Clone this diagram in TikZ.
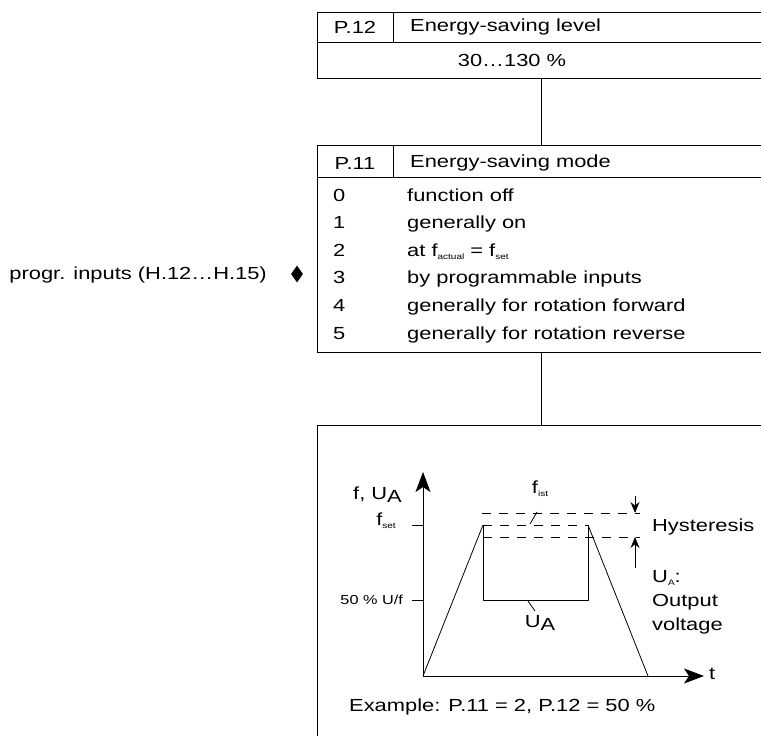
\documentclass[tikz,border=0pt]{standalone}
\usepackage{fontspec}
\setmainfont{Liberation Sans}[FakeStretch=1.25]
\usetikzlibrary{arrows.meta,shapes.geometric}
% tiny lowered index, and index at full size
\newcommand{\lowsub}[1]{\raisebox{-3pt}{\fontsize{8}{8}\selectfont #1}}
\newcommand{\bigsub}[1]{\raisebox{-3pt}{#1}}

\begin{document}
\begin{tikzpicture}[x=1pt, y=-1pt,
  every node/.style={font=\fontsize{17.5}{24}\selectfont, inner sep=0pt},
  pbox/.style={draw, line width=1pt, anchor=north west, minimum width=460pt},
  divider/.style={line width=1pt},
  curve/.style={line width=0.8pt},
  guide/.style={curve, dash pattern=on 9pt off 8pt},
  axis/.style={curve, -{Stealth[length=20pt, width=15pt, inset=5pt]}},
  hyst/.style={curve, -{Stealth[length=11pt, width=9pt]}},
  small/.style={font=\fontsize{13}{15}\selectfont}]
  \useasboundingbox (0,0) rectangle (761,736);
  \clip (0,0) rectangle (761,736);

  % P.12 parameter box
  \node[pbox, minimum height=66pt] (p12) at (317,12) {};
  \draw[divider] (317,42) -- (780,42);
  \draw[divider] (393,12) -- (393,42);
  \node (p12id) at (355,27) {P.12};
  \node[anchor=west] (p12name) at (410,27) {Energy-saving level};
  \node (p12range) at (512,60) {30…130 \%};

  % P.11 parameter box
  \node[pbox, minimum height=207pt] (p11) at (317,145) {};
  \draw[divider] (317,177) -- (780,177);
  \draw[divider] (393,145) -- (393,177);
  \node (p11id) at (355,163) {P.11};
  \node[anchor=west] (p11name) at (410,163) {Energy-saving mode};
  \foreach \val/\txt [count=\i from 0] in {0/function off, 1/generally on,
      2/{at f\lowsub{actual} = f\lowsub{set}}, 3/by programmable inputs,
      4/generally for rotation forward, 5/generally for rotation reverse} {
    \node[anchor=base west] (num\val) at (333,{201+27.6*\i}) {\val};
    \node[anchor=base west] (opt\val) at (407,{201+27.6*\i}) {\txt};
  }
  \node[anchor=east] (progin) at (267,275) {progr. inputs (H.12…H.15)};
  \node[diamond, fill, minimum width=12pt, minimum height=17pt] (trig) at (297,274) {};

  % example chart box
  \node[pbox, minimum height=340pt] (chart) at (317,425) {};

  % links between the boxes
  \coordinate (hub) at (541,0);
  \draw[divider] (p12.south -| hub) -- (p11.north -| hub);
  \draw[divider] (p11.south -| hub) -- (chart.north -| hub);

  % axes
  \coordinate (O) at (423,676);
  \coordinate (ytop) at (423,472);
  \coordinate (xend) at (704,676);
  \draw[axis] (O) -- (ytop);
  \draw[axis] (O) -- (xend);
  \draw[curve] (412,525) -- (423,525);
  \draw[curve] (412,600) -- (423,600);
  \node[anchor=east] (fua) at (402,495) {f, U\bigsub{A}};
  \node (fset) at (386,521) {f\lowsub{set}};
  \node[small, anchor=east] (halfuf) at (403,600) {50 \% U/f};
  \node[anchor=west] (tlab) at (709,674) {t};

  % frequency ramp and output voltage
  \coordinate (rampup) at (483,525);
  \coordinate (rampdn) at (588,525);
  \draw[curve] (O) -- (rampup);
  \draw[guide] (rampup) -- (rampdn);
  \draw[curve] (rampdn) -- (648,676);
  \draw[curve] (rampup) -- (483,600) -- (588,600) -- (rampdn);
  \draw[guide] (482,513) -- (640,513);
  \draw[guide] (483,537) -- (640,537);

  % labels inside the chart
  \node (fist) at (540,489) {f\lowsub{ist}};
  \draw[curve] (530,524) -- (537,512);
  \node (ualab) at (540,623) {U\bigsub{A}};
  \draw[curve] (528,601) -- (535,611);

  % hysteresis band
  \coordinate (hupper) at (635,513);
  \coordinate (hlower) at (635,537);
  \draw[hyst] (635,496) -- (hupper);
  \draw[hyst] (635,568) -- (hlower);
  \node[anchor=west] (hyslab) at (652,527) {Hysteresis};
  \node[anchor=north west, align=left] (outlab) at (652,570) {U\lowsub{A}:\\Output\\voltage};

  \node[anchor=west] (example) at (349,707) {Example: P.11 = 2, P.12 = 50 \%};
\end{tikzpicture}
\end{document}
